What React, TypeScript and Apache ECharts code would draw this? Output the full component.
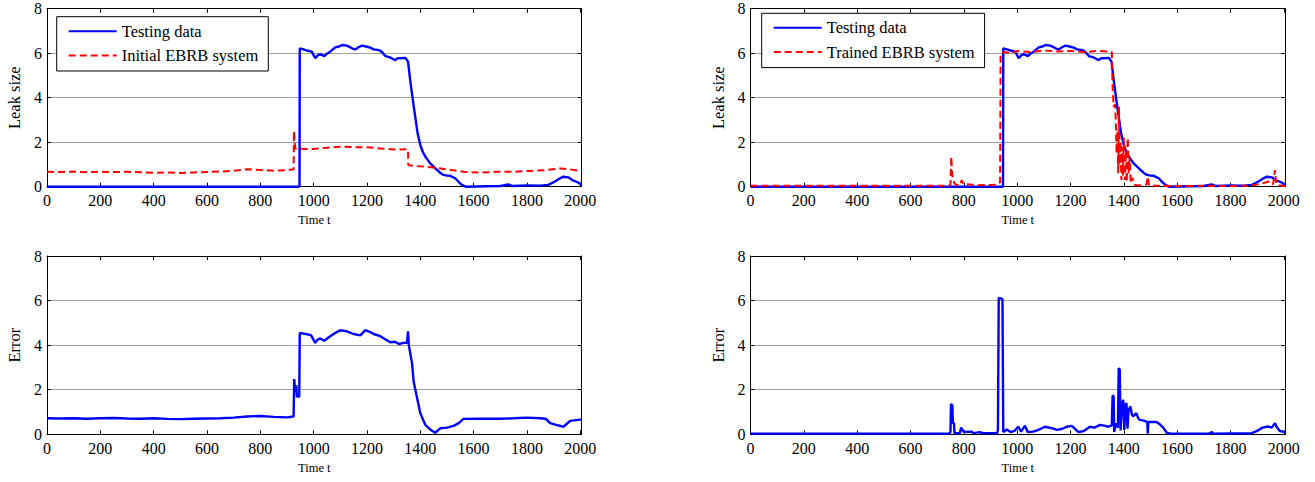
import React, { useEffect, useRef } from "react";
import * as echarts from "echarts";

// ---- data (time t, value) ----
const xTickLabels = [0, 200, 400, 600, 800, 1000, 1200, 1400, 1600, 1800, 2000];
const yTickLabels = [0, 2, 4, 6, 8];

const testingData: [number, number][] = [
  [0, 0], [947, 0], [948, 6.22], [962, 6.17], [975, 6.12], [993, 6.07], [1006, 5.77], [1015, 5.9],
  [1025, 5.96], [1040, 5.87], [1050, 5.98], [1062, 6.07], [1081, 6.26], [1095, 6.3], [1106, 6.37],
  [1125, 6.34], [1144, 6.22], [1156, 6.17], [1170, 6.28], [1181, 6.34], [1200, 6.29], [1212, 6.25],
  [1225, 6.17], [1240, 6.15], [1250, 6.11], [1260, 6.0], [1269, 5.87], [1287, 5.81], [1296, 5.75],
  [1306, 5.69], [1315, 5.78], [1325, 5.77], [1344, 5.79], [1354, 5.62], [1362, 4.8], [1372, 3.9],
  [1381, 3.15], [1390, 2.4], [1400, 1.87], [1410, 1.55], [1419, 1.35], [1437, 1.05], [1450, 0.9],
  [1463, 0.75], [1475, 0.62], [1487, 0.53], [1500, 0.5], [1512, 0.49], [1531, 0.38], [1545, 0.2],
  [1556, 0.08], [1570, 0], [1650, 0.02], [1700, 0.03], [1730, 0.1], [1745, 0.03], [1800, 0.06],
  [1850, 0.05], [1880, 0.08], [1900, 0.2], [1920, 0.35], [1937, 0.45], [1955, 0.42], [1970, 0.3],
  [1990, 0.2], [2000, 0.12], [2005, 0.08],
];

const initialEbrb: [number, number][] = [
  [0, 0.67], [50, 0.66], [100, 0.68], [150, 0.65], [200, 0.67], [250, 0.66], [300, 0.67], [350, 0.65],
  [400, 0.63], [450, 0.64], [500, 0.62], [550, 0.64], [600, 0.66], [650, 0.68], [700, 0.72], [750, 0.78],
  [800, 0.75], [850, 0.72], [900, 0.74], [925, 0.78], [926, 2.5], [931, 1.72], [960, 1.7], [1000, 1.7],
  [1050, 1.75], [1100, 1.8], [1150, 1.78], [1200, 1.77], [1250, 1.72], [1300, 1.67], [1354, 1.68],
  [1355, 0.97], [1380, 0.93], [1420, 0.9], [1450, 0.86], [1500, 0.78], [1562, 0.67], [1625, 0.63],
  [1688, 0.67], [1750, 0.67], [1812, 0.71], [1875, 0.75], [1925, 0.82], [1962, 0.78], [2000, 0.7],
  [2005, 0.7],
];

const trainedEbrb: [number, number][] = [
  [0, 0.04], [745, 0.04], [750, 0.1], [753, 1.35], [756, 0.6], [760, 0.3], [765, 0.15], [770, 0.1],
  [785, 0.05], [792, 0.3], [798, 0.12], [820, 0.1], [850, 0.07], [900, 0.08], [930, 0.1], [936, 0.2],
  [938, 6.0], [950, 6.05], [980, 6.0], [1000, 6.1], [1050, 6.05], [1100, 6.12], [1150, 6.08],
  [1200, 6.1], [1250, 6.05], [1300, 6.1], [1340, 6.08], [1355, 6.05], [1358, 4.5], [1362, 3.6],
  [1367, 3.7], [1370, 3.0], [1373, 1.5], [1376, 2.5], [1379, 0.6], [1382, 3.6], [1385, 1.0],
  [1388, 2.0], [1391, 0.3], [1394, 1.8], [1397, 0.5], [1400, 2.2], [1404, 0.3], [1408, 1.6],
  [1411, 0.2], [1415, 2.2], [1418, 0.6], [1422, 1.3], [1426, 0.15], [1432, 0.4], [1440, 0.08],
  [1460, 0.05], [1485, 0.1], [1490, 0.45], [1495, 0.05], [1600, 0.03], [1700, 0.04], [1800, 0.03],
  [1880, 0.05], [1920, 0.15], [1950, 0.25], [1960, 0.1], [1967, 0.75], [1972, 0.1], [1985, 0.05],
  [2005, 0.03],
];

const errorInitial: [number, number][] = [
  [0, 0.72], [50, 0.71], [100, 0.72], [150, 0.7], [200, 0.72], [250, 0.73], [300, 0.71], [350, 0.7],
  [400, 0.72], [450, 0.69], [500, 0.68], [550, 0.7], [600, 0.71], [650, 0.72], [700, 0.75], [750, 0.8],
  [800, 0.82], [850, 0.78], [900, 0.76], [925, 0.8], [927, 2.48], [931, 1.9], [935, 2.2], [937, 1.69],
  [946, 1.69], [948, 4.55], [970, 4.5], [990, 4.45], [1006, 4.1], [1015, 4.25], [1025, 4.3],
  [1040, 4.2], [1062, 4.4], [1081, 4.55], [1100, 4.67], [1125, 4.62], [1150, 4.5], [1175, 4.44],
  [1194, 4.67], [1210, 4.6], [1225, 4.5], [1250, 4.4], [1270, 4.25], [1287, 4.13], [1305, 4.15],
  [1320, 4.05], [1337, 4.1], [1350, 4.1], [1354, 4.62], [1357, 4.0], [1369, 3.2], [1375, 2.37],
  [1387, 1.69], [1400, 0.95], [1419, 0.42], [1437, 0.22], [1456, 0.07], [1475, 0.27], [1500, 0.3],
  [1525, 0.38], [1544, 0.5], [1562, 0.69], [1625, 0.7], [1700, 0.7], [1750, 0.72], [1800, 0.75],
  [1850, 0.72], [1870, 0.7], [1887, 0.5], [1910, 0.42], [1937, 0.34], [1962, 0.6], [2000, 0.66],
  [2005, 0.66],
];

const errorTrained: [number, number][] = [
  [0, 0.03], [745, 0.03], [750, 0.1], [752, 1.36], [757, 1.3], [759, 0.5], [763, 0.5], [765, 0.05],
  [785, 0.05], [790, 0.3], [795, 0.2], [800, 0.1], [830, 0.12], [835, 0.05], [860, 0.1], [870, 0.05],
  [925, 0.05], [928, 0.2], [931, 6.12], [940, 6.1], [945, 6.05], [948, 0.1], [955, 0.15], [961, 0.22],
  [975, 0.1], [990, 0.15], [1004, 0.34], [1015, 0.12], [1029, 0.38], [1040, 0.1], [1060, 0.12],
  [1080, 0.2], [1104, 0.34], [1130, 0.28], [1150, 0.2], [1170, 0.25], [1186, 0.34], [1205, 0.38],
  [1230, 0.1], [1250, 0.15], [1273, 0.34], [1290, 0.3], [1311, 0.42], [1330, 0.38], [1342, 0.34],
  [1355, 0.4], [1358, 1.74], [1362, 1.7], [1364, 0.1], [1370, 0.5], [1378, 0.3], [1381, 2.97],
  [1385, 2.9], [1388, 0.17], [1393, 1.3], [1398, 1.55], [1402, 0.2], [1406, 1.3], [1410, 1.4],
  [1414, 0.25], [1418, 1.1], [1425, 1.25], [1430, 0.9], [1435, 0.8], [1447, 0.95], [1455, 0.7],
  [1460, 0.65], [1479, 0.6], [1488, 0.55], [1490, 0.03], [1492, 0.55], [1523, 0.55], [1535, 0.45],
  [1548, 0.3], [1561, 0.07], [1575, 0.03], [1720, 0.03], [1730, 0.1], [1735, 0.03], [1880, 0.05],
  [1900, 0.15], [1920, 0.3], [1940, 0.35], [1955, 0.3], [1967, 0.5], [1975, 0.3], [1985, 0.15],
  [2005, 0.1],
];

const SERIF = "'Liberation Serif', 'Times New Roman', serif";
const BLUE = "#0000ff";
const RED = "#ff0000";
const X_MAX = 2005;

export default function App() {
  const ref = useRef<HTMLDivElement>(null);

  useEffect(() => {
    if (!ref.current) return;
    const chart = echarts.init(ref.current, undefined, { renderer: "svg" });

    const grids = [
      { left: 47, top: 8.7, width: 534.6, height: 178 },
      { left: 750.5, top: 8.7, width: 534.6, height: 178 },
      { left: 47, top: 256, width: 534.6, height: 178.3 },
      { left: 750.5, top: 256, width: 534.6, height: 178.3 },
    ];
    const yNames = ["Leak size", "Leak size", "Error", "Error"];

    const xAxes: any[] = [];
    const yAxes: any[] = [];
    grids.forEach((_, i) => {
      const common = {
        type: "value",
        gridIndex: i,
        min: 0,
        max: X_MAX,
        interval: 200,
        axisLine: { show: true, onZero: false, lineStyle: { color: "#000", width: 1 } },
        axisTick: { show: true, inside: true, length: 4, lineStyle: { color: "#000", width: 1 } },
        splitLine: { show: false },
      };
      xAxes.push({
        ...common,
        position: "bottom",
        axisLabel: {
          show: true,
          margin: 6,
          fontFamily: SERIF,
          fontSize: 16,
          color: "#000",
          formatter: (v: number) => (xTickLabels.indexOf(v) >= 0 ? String(v) : ""),
        },
        name: "Time t",
        nameLocation: "middle",
        nameGap: 27,
        nameTextStyle: { fontFamily: SERIF, fontSize: 12.5, color: "#000" },
      });
      xAxes.push({ ...common, position: "top", axisLabel: { show: false } });

      const yCommon = {
        type: "value",
        gridIndex: i,
        min: 0,
        max: 8,
        interval: 2,
        axisLine: { show: true, onZero: false, lineStyle: { color: "#000", width: 1 } },
        axisTick: { show: true, inside: true, length: 4, lineStyle: { color: "#000", width: 1 } },
      };
      yAxes.push({
        ...yCommon,
        position: "left",
        axisLabel: {
          show: true,
          margin: 5,
          fontFamily: SERIF,
          fontSize: 16,
          color: "#000",
          formatter: (v: number) => (yTickLabels.indexOf(v) >= 0 ? String(v) : ""),
        },
        splitLine: { show: true, lineStyle: { color: "#a0a0a0", width: 1 } },
        name: yNames[i],
        nameLocation: "middle",
        nameGap: 24,
        nameTextStyle: { fontFamily: SERIF, fontSize: 16.5, color: "#000" },
      });
      yAxes.push({ ...yCommon, position: "right", axisLabel: { show: false }, splitLine: { show: false } });
    });

    const line = (name: string, data: [number, number][], grid: number, color: string, dashed: boolean, z: number) => ({
      type: "line",
      name,
      data,
      xAxisIndex: grid * 2,
      yAxisIndex: grid * 2,
      symbol: "none",
      showSymbol: false,
      z,
      lineStyle: { color, width: dashed ? 2 : 2.4, type: dashed ? [7, 4] : "solid" },
      itemStyle: { color },
    });

    const legendBase = {
      orient: "vertical",
      selectedMode: false,
      backgroundColor: "#fff",
      borderColor: "#000",
      borderWidth: 1,
      borderRadius: 0,
      itemWidth: 48,
      itemHeight: 16,
      itemGap: 7.3,
      itemStyle: { opacity: 0 },
      textStyle: { fontFamily: SERIF, fontSize: 16.5, color: "#000", lineHeight: 16 },
    };

    chart.setOption({
      animation: false,
      backgroundColor: "#fff",
      grid: grids.map((g) => ({ ...g, containLabel: false })),
      xAxis: xAxes,
      yAxis: yAxes,
      legend: [
        { ...legendBase, left: 56.7, top: 16.7, padding: [6, 10, 7, 11], data: ["Testing data", "Initial EBRB system"] },
        { ...legendBase, left: 761.7, top: 13.3, padding: [6, 10, 7, 11], data: ["Testing data", "Trained EBRB system"] },
      ],
      series: [
        line("Testing data", testingData, 0, BLUE, false, 2),
        line("Initial EBRB system", initialEbrb, 0, RED, true, 3),
        line("Testing data", testingData, 1, BLUE, false, 2),
        line("Trained EBRB system", trainedEbrb, 1, RED, true, 3),
        line("Error (initial)", errorInitial, 2, BLUE, false, 2),
        line("Error (trained)", errorTrained, 3, BLUE, false, 2),
      ],
    });

    return () => chart.dispose();
  }, []);

  return (
    <div
      ref={ref}
      style={{ position: "fixed", left: 0, top: 0, width: 1315, height: 482, background: "#fff" }}
    />
  );
}
